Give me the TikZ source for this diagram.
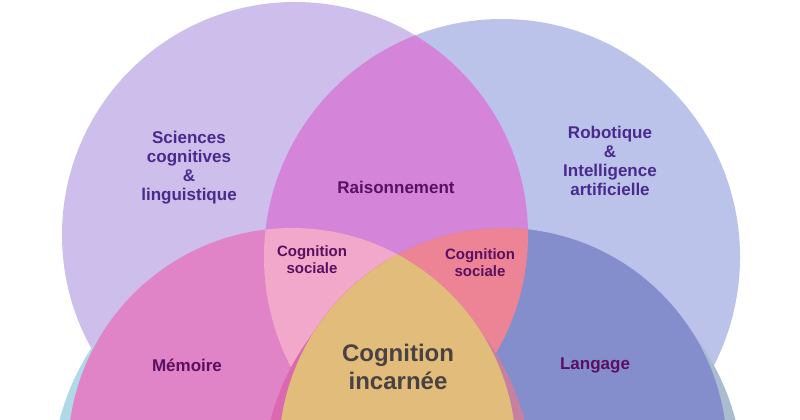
\documentclass[tikz,border=0pt]{standalone}
\usepackage{fontspec}
\setmainfont{Liberation Sans}
\begin{document}
\begin{tikzpicture}[x=1pt,y=-1pt,
 lab/.style={font=\bfseries\fontsize{17}{19}\selectfont,align=center,text=#1},
 lab/.default={black}]
\definecolor{tp}{HTML}{4A2A8E}\definecolor{mp}{HTML}{5A1060}\definecolor{gr}{HTML}{4A4242}
\useasboundingbox (0,0) rectangle (800,420);
\clip (0,0) rectangle (800,420);
\def\Ca{(295,235) circle (233)}
\def\Cb{(502,257) circle (238)}
\def\Cc{(292,452) circle (224)}
\def\Cd{(503,452) circle (224)}
\def\Ce{(292,480) circle (240)}
\def\Cf{(503,480) circle (240)}
\fill[fill=white] (0,0) rectangle (800,420);
\fill[color={rgb,255:red,205;green,190;blue,235}] \Ca;
\fill[color={rgb,255:red,188;green,195;blue,234}] \Cb;
\begin{scope}\clip \Ca; \fill[color={rgb,255:red,213;green,133;blue,217}] \Cb;\end{scope}
\fill[color={rgb,255:red,175;green,217;blue,232}] \Ce;
\fill[color={rgb,255:red,170;green,188;blue,208}] \Cf;
\fill[color={rgb,255:red,224;green,131;blue,199}] \Cc;
\fill[color={rgb,255:red,132;green,142;blue,204}] \Cd;
\begin{scope}\clip \Ca; \clip \Cb; \fill[color={rgb,255:red,241;green,168;blue,203}] \Cc; \fill[color={rgb,255:red,237;green,132;blue,150}] \Cd;\end{scope}
\begin{scope}\clip \Cc; \fill[color={rgb,255:red,220;green,104;blue,176}] \Cf;\end{scope}
\begin{scope}\clip \Cd; \fill[color={rgb,255:red,200;green,128;blue,160}] \Ce;\end{scope}
\begin{scope}\clip \Cc; \fill[color={rgb,255:red,225;green,188;blue,122}] \Cd;\end{scope}
\node[lab=tp] (sc) at (189,168) {Sciences\\cognitives\\\&\\linguistique};
\node[lab=tp] (ro) at (610,161) {Robotique\\\&\\Intelligence\\artificielle};
\node[lab=mp] (ra) at (396,187) {Raisonnement};
\node[lab=mp,font=\bfseries\fontsize{15}{17}\selectfont] (cs1) at (312,260) {Cognition\\sociale};
\node[lab=mp,font=\bfseries\fontsize{15}{17}\selectfont] (cs2) at (480,263) {Cognition\\sociale};
\node[lab=mp] (me) at (187,365) {Mémoire};
\node[lab=mp] (la) at (595,365) {Langage};
\node[lab=gr,font=\bfseries\fontsize{24}{28}\selectfont] (ci) at (398,367) {Cognition\\incarnée};
\end{tikzpicture}
\end{document}
